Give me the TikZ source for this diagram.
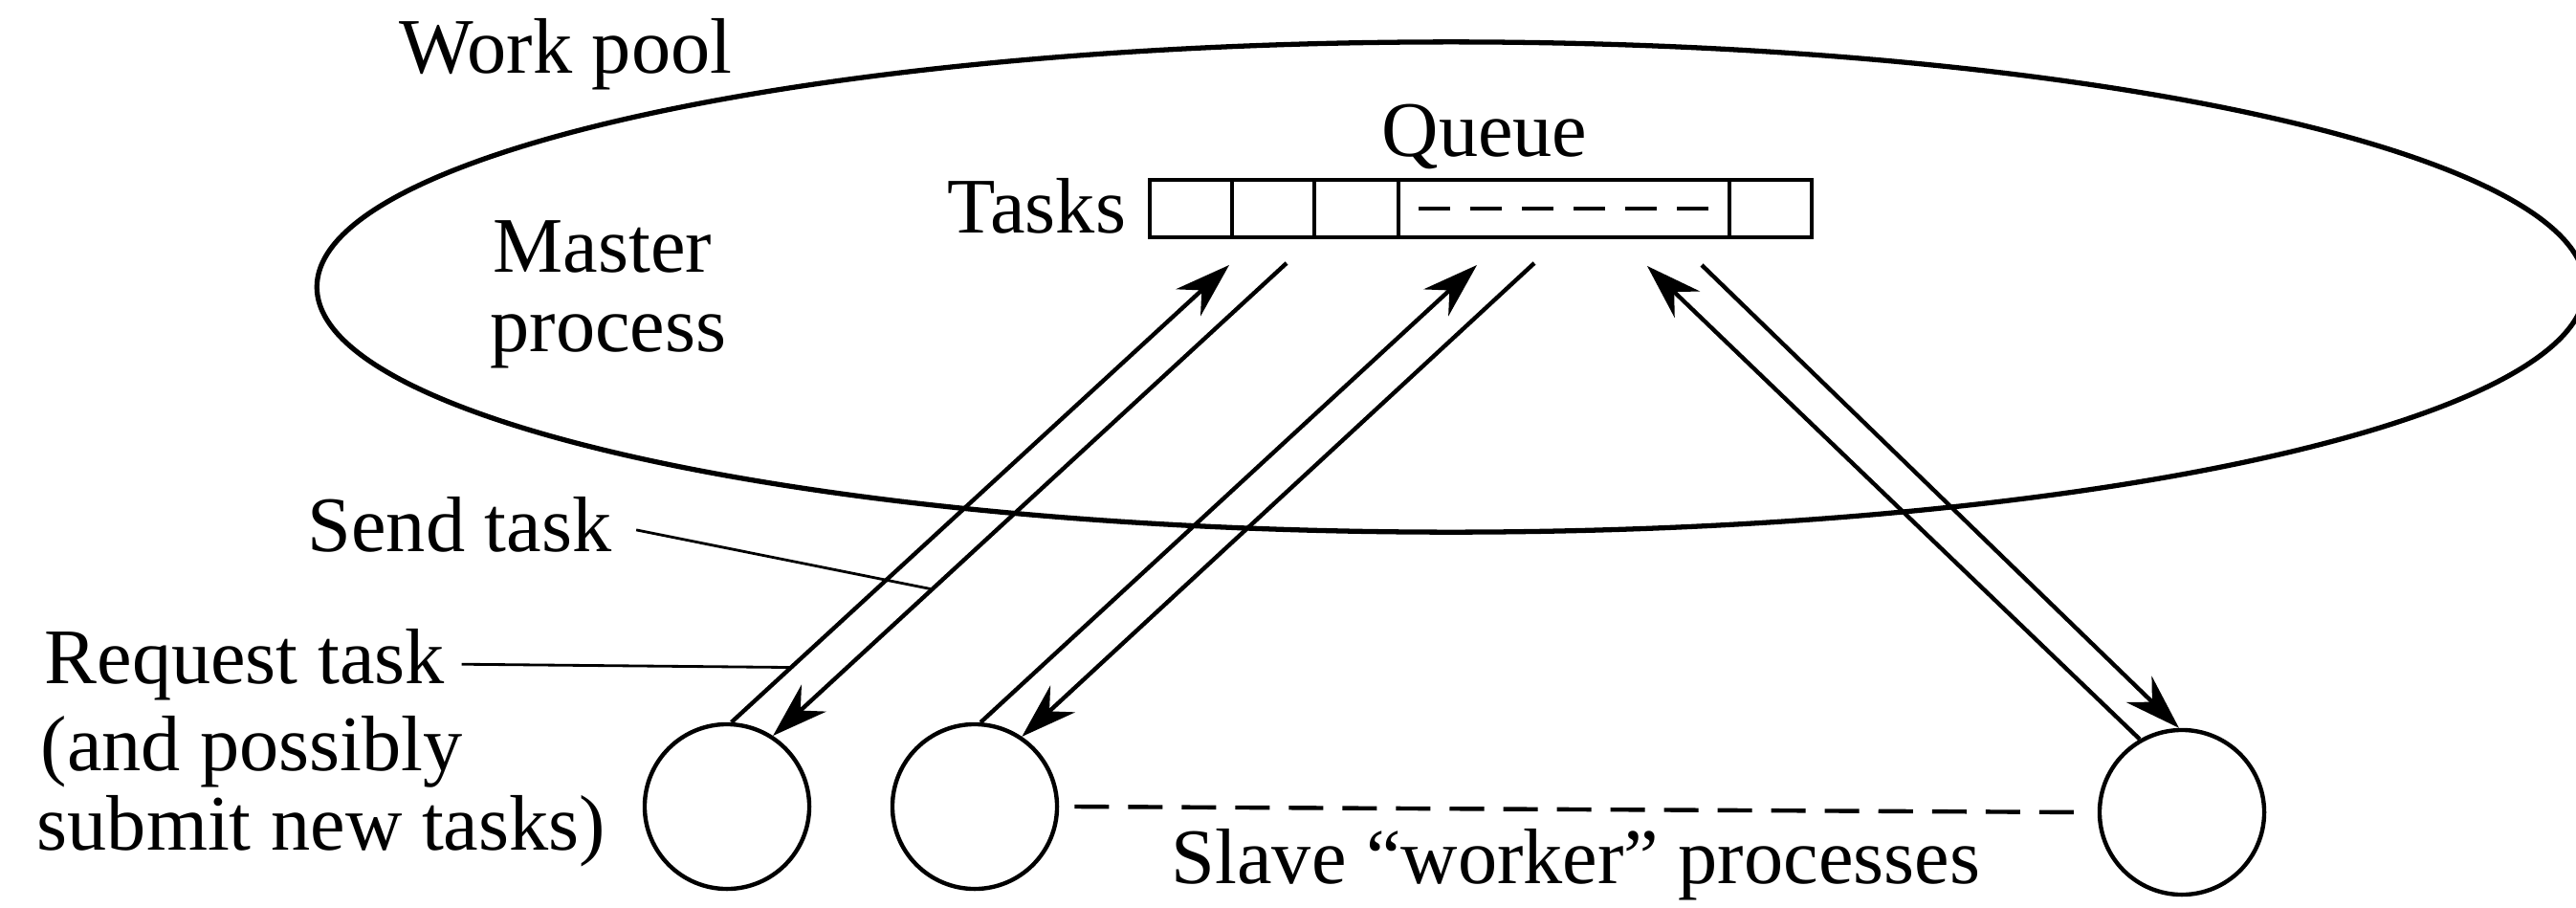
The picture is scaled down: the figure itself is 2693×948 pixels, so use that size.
\documentclass[tikz,border=0pt]{standalone}
\usepackage{fontspec}
\setmainfont{Liberation Serif}
\usetikzlibrary{arrows.meta,calc}
\begin{document}
\begin{tikzpicture}[x=0.01cm,y=-0.01cm,
  lbl/.style={font=\fontsize{23.4}{26}\selectfont, inner sep=0pt, anchor=base west},
  wire/.style={line width=1.25pt},
  msgline/.style={line width=1.25pt, -{Stealth[length=5.8mm,width=3.8mm,inset=1.9mm]}},
  leaderline/.style={line width=0.8pt},
  workerproc/.style={circle, draw, line width=1.25pt, minimum size=1.72cm, inner sep=0pt},
  queuebox/.style={draw, line width=1.25pt, minimum width=6.92cm, minimum height=0.6cm, inner sep=0pt}]
\fill[white] (0,0) rectangle (2693,948);
\useasboundingbox (0,0) rectangle (2693,948);

% the work pool boundary
\draw[line width=1.5pt] (1517,300) ellipse [x radius=11.85cm, y radius=2.56cm];

% task queue with its cells
\node[queuebox] (queue) at (1548,218) {};
\foreach \cx in {1288,1374,1462,1808}
  \draw[wire] (\cx,188) -- (\cx,248);
\draw[wire, dash pattern=on 0.33cm off 0.21cm] (1483,218) -- (1808,218);

% labels
\node[lbl] (queuelbl) at (1444,163) {Queue};
\node[lbl] (taskslbl) at (990,243) {Tasks};
\node[lbl] (pool) at (417,76) {Work pool};
\node[lbl] (master) at (515,284) {Master};
\node[lbl] (masterb) at (512,367) {process};
\node[lbl] (send) at (321,576) {Send task};
\node[lbl] (req) at (46,714) {Request task};
\node[lbl] (reqb) at (42,805) {(and possibly};
\node[lbl] (reqc) at (38,888) {submit new tasks)};
\node[lbl] (workers) at (1224,923) {Slave “worker” processes};

% slave processes
\node[workerproc] (s1) at (760,843) {};
\node[workerproc] (s2) at (1019,843) {};
\node[workerproc] (s3) at (2281,849) {};

% queue-side ends of the message lines
\coordinate (q1in) at (1285,277);
\coordinate (q1out) at (1345,275);
\coordinate (q2in) at (1544,277);
\coordinate (q2out) at (1604,275);
\coordinate (q3in) at (1722,278);
\coordinate (q3out) at (1779,277);

% request / send message lines
\draw[msgline] (s1.87) -- (q1in);
\draw[msgline] (q1out) -- (s1.57);
\draw[msgline] (s2.86) -- (q2in);
\draw[msgline] (q2out) -- (s2.56);
\draw[msgline] (s3.120) -- (q3in);
\draw[msgline] (q3out) -- (s3.92);

% the remaining workers
\draw[wire, dash pattern=on 0.36cm off 0.2cm] ([xshift=0.16cm]s2.east) -- ([xshift=-0.13cm]s3.west);

% leader lines
\coordinate (sendpt) at ($(q1out)!0.69!(s1.57)$);
\coordinate (reqpt) at ($(s1.87)!0.12!(q1in)$);
\draw[leaderline] ([xshift=0.25cm,yshift=-0.06cm]send.east) -- (sendpt);
\draw[leaderline] ([xshift=0.17cm]req.east) -- (reqpt);
\end{tikzpicture}
\end{document}
